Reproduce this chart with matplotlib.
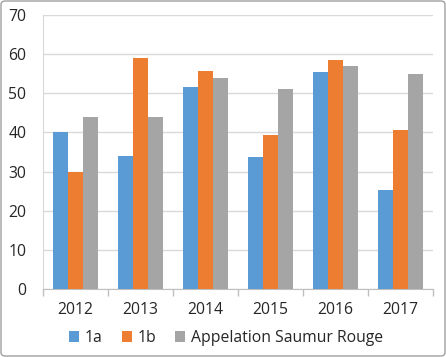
import matplotlib
matplotlib.use("Agg")
import matplotlib.pyplot as plt
import numpy as np
from matplotlib.patches import FancyBboxPatch

years = ["2012", "2013", "2014", "2015", "2016", "2017"]
s_1a = [40, 34, 51.5, 33.8, 55.4, 25.3]
s_1b = [30, 59, 55.7, 39.4, 58.6, 40.5]
s_asr = [44, 44, 54, 51, 56.9, 55]
labels = ["1a", "1b", "Appelation Saumur Rouge"]
colors = ["#5B9BD5", "#ED7D31", "#A5A5A5"]

plt.rcParams['font.family'] = ['Open Sans', 'DejaVu Sans']
FS = 11.3

fig = plt.figure(figsize=(4.46, 3.57), dpi=100)
ax = fig.add_axes([43/446, 1-289/357, 390/446, 274/357])

x = np.arange(len(years))
w = 0.226
for i, (vals, lab, c) in enumerate(zip([s_1a, s_1b, s_asr], labels, colors)):
    ax.bar(x + (i-1)*w, vals, width=w, color=c, label=lab, zorder=3)

ax.set_xlim(-0.5, len(years)-0.5)
ax.set_ylim(0, 70)
ax.set_yticks(range(0, 71, 10))
ax.yaxis.grid(True, color="#D9D9D9", linewidth=1, zorder=0)
ax.set_xticks(x)
ax.set_xticklabels(years, fontsize=FS, color="#262626")
ax.set_xticks(np.arange(-0.5, len(years), 1), minor=True)
ax.tick_params(axis='x', which='major', length=0, pad=9)
ax.tick_params(axis='x', which='minor', length=5, color="#BFBFBF", width=1)
ax.tick_params(axis='y', length=0, labelsize=FS, labelcolor="#262626", pad=12)
for s in ["top", "right"]:
    ax.spines[s].set_visible(False)
ax.spines["left"].set_color("#D9D9D9")
ax.spines["bottom"].set_color("#BFBFBF")

leg = fig.legend(loc="center", bbox_to_anchor=(226/446, 1-338/357), ncol=3, frameon=False,
                 fontsize=FS, handlelength=0.63, handleheight=0.63, columnspacing=1.25,
                 handletextpad=0.35, borderaxespad=0, borderpad=0)
for t in leg.get_texts():
    t.set_color("#262626")

border = FancyBboxPatch((1/446, 1/357), 444/446, 355/357, boxstyle="round,pad=0,rounding_size=0.01",
                        transform=fig.transFigure, fill=False, edgecolor="#A0A0A0", linewidth=1)
fig.patches.append(border)

fig.savefig("out.png", dpi=100)
